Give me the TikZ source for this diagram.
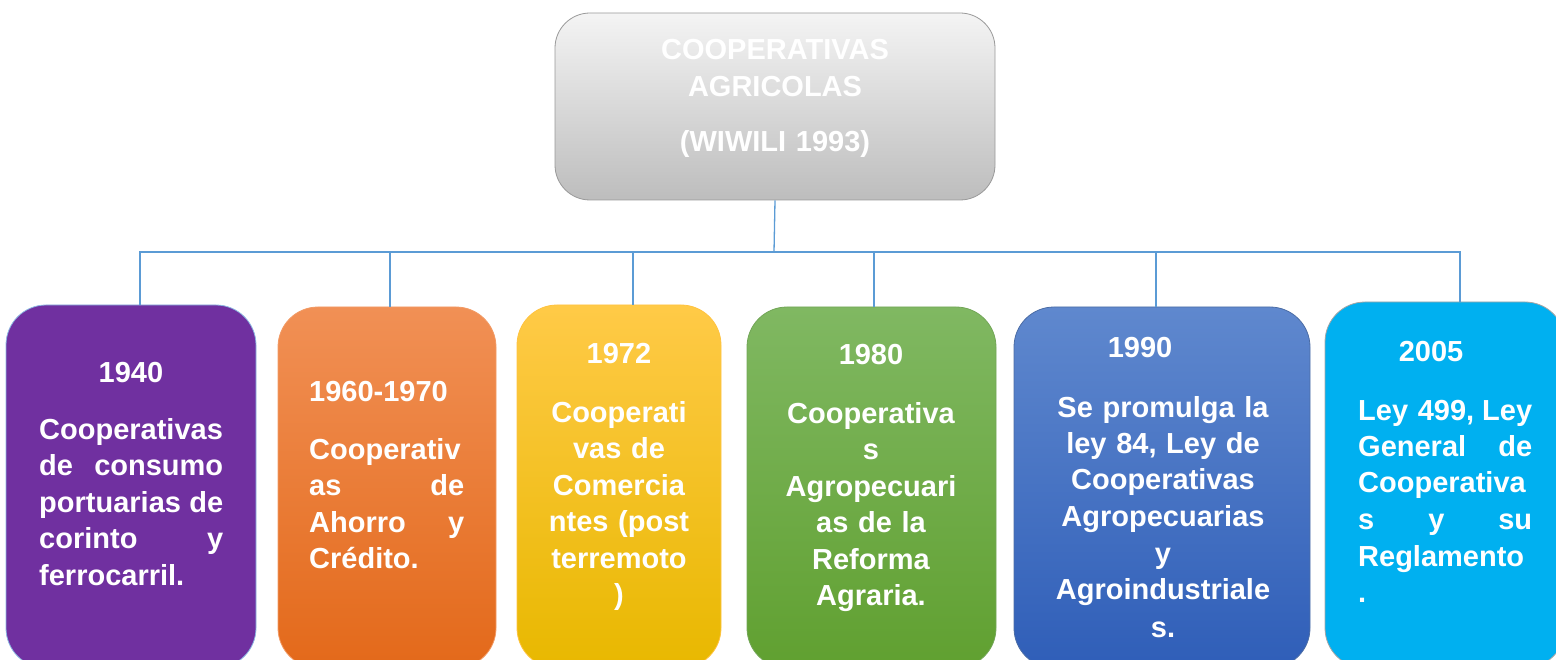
\documentclass[tikz,border=0pt]{standalone}
\usepackage{fontspec}
\setmainfont{Liberation Sans}
\usetikzlibrary{positioning}
\definecolor{conncol}{HTML}{5B9BD5}
\definecolor{purp}{HTML}{7030A0}
\definecolor{orT}{HTML}{F19055}
\definecolor{orB}{HTML}{E3691A}
\definecolor{yeT}{HTML}{FFCA47}
\definecolor{yeB}{HTML}{E8B800}
\definecolor{grT}{HTML}{80B862}
\definecolor{grB}{HTML}{60A030}
\definecolor{blT}{HTML}{5F88CE}
\definecolor{blB}{HTML}{2F5EB8}
\definecolor{cyan1}{HTML}{00B0F0}
\definecolor{gyT}{HTML}{F4F4F4}
\definecolor{gyB}{HTML}{BDBDBD}
\newcommand{\jl}[2]{\leavevmode\hbox to #1pt{#2}}
\begin{document}
\begin{tikzpicture}[x=1pt,y=-1pt,
  card/.style={rounded corners=40pt, inner sep=0pt, line width=0.8pt},
  conn/.style={draw=conncol, line width=1.3pt},
  txt/.style={text=white, inner sep=0pt, font=\fontsize{29}{36.5}\selectfont\bfseries},
  head/.style={txt, anchor=base},
]
\useasboundingbox (0,0) rectangle (1556,660);
\clip (0,0) rectangle (1556,660);

% top box
\node[rounded corners=35pt, inner sep=0pt, draw=gray!80, line width=0.8pt, top color=gyT, bottom color=gyB,
      minimum width=440pt, minimum height=187pt] (top) at (775,106.5) {};
\node[txt, anchor=base, text width=430pt, align=center] (toptext) at (775,60)
  {COOPERATIVAS\\AGRICOLAS\\[19pt](WIWILI 1993)};

% boxes
\node[card, draw=conncol!70, fill=purp, minimum width=250pt, minimum height=363pt] (b1) at (131,486.5) {};
\node[card, draw=orT!90, top color=orT, bottom color=orB, minimum width=218pt, minimum height=361pt] (b2) at (387,487.5) {};
\node[card, draw=yeT!90!orange, top color=yeT, bottom color=yeB, minimum width=204pt, minimum height=363pt] (b3) at (619,486.5) {};
\node[card, draw=grT!90!black, top color=grT, bottom color=grB, minimum width=249pt, minimum height=361pt] (b4) at (871.5,487.5) {};
\node[card, draw=blT!80!black, top color=blT, bottom color=blB, minimum width=296pt, minimum height=361pt] (b5) at (1162,487.5) {};
\node[card, draw=gray!70, fill=cyan1, minimum width=240pt, minimum height=366pt] (b6) at (1445,485) {};

% connectors
\coordinate (hub) at (774,252);
\draw[conn] (top.south) -- (hub);
\draw[conn] (hub) -| ([xshift=9pt]b1.north);
\draw[conn] (hub) -| ([xshift=3pt]b2.north);
\draw[conn] (hub) -| ([xshift=14pt]b3.north);
\draw[conn] (hub) -| ([xshift=2.5pt]b4.north);
\draw[conn] (hub) -| ([xshift=-6pt]b5.north);
\draw[conn] (hub) -| ([xshift=15pt]b6.north);

% headings
\node[head] (h1) at (131,382) {1940};
\node[head, anchor=base west] (h2) at (309,401) {1960-1970};
\node[head] (h3) at (619,363) {1972};
\node[head] (h4) at (871,365) {1980};
\node[head] (h5) at (1140,358) {1990};
\node[head] (h6) at (1431,362) {2005};

% texts
\node[txt, anchor=base west, text width=190pt, align=left] (t1) at (39,439)
  {\jl{184}{Cooperativas}\\
   \jl{184}{de\hfill consumo}\\
   \jl{184}{portuarias\hfill de}\\
   \jl{184}{corinto\hfill y}\\
   ferrocarril.};
\node[txt, anchor=base west, text width=165pt, align=left] (t2) at (309,459)
  {Cooperativ\\
   \jl{155}{as\hfill de}\\
   \jl{155}{Ahorro\hfill y}\\
   Crédito.};
\node[txt, anchor=base, text width=200pt, align=center] (t3) at (619,422)
  {Cooperati\\vas de\\Comercia\\ntes (post\\terremoto\\)};
\node[txt, anchor=base, text width=240pt, align=center] (t4) at (871,423)
  {Cooperativa\\s\\Agropecuari\\as de la\\Reforma\\Agraria.};
\node[txt, anchor=base, text width=280pt, align=center] (t5) at (1163,417)
  {Se promulga la\\ley 84, Ley de\\Cooperativas\\Agropecuarias\\y\\Agroindustriale\\[2pt]s.};
\node[txt, anchor=base west, text width=190pt, align=left] (t6) at (1358,420)
  {\jl{174}{Ley 499,\hfill Ley}\\
   \jl{174}{General\hfill de}\\
   Cooperativa\\
   \jl{174}{s\hfill y\hfill su}\\
   Reglamento\\
   .};
\end{tikzpicture}
\end{document}
